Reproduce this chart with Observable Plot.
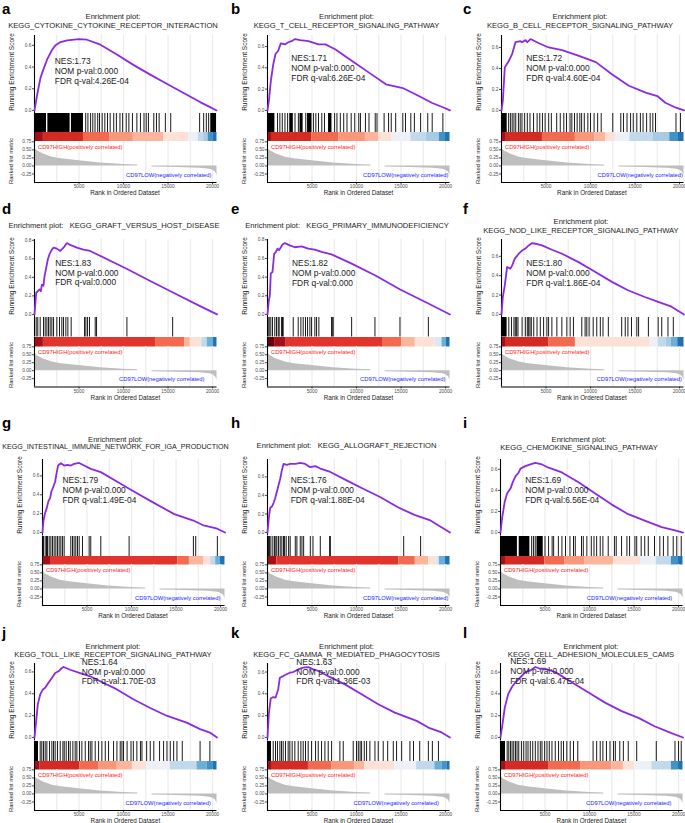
<!DOCTYPE html>
<html><head><meta charset="utf-8">
<script src="https://cdn.jsdelivr.net/npm/d3@7"></script>
<script src="https://cdn.jsdelivr.net/npm/@observablehq/plot@0.6"></script>
<style>
body{margin:0;background:#fff;}
#fig{position:relative;width:685px;height:823px;overflow:hidden;font-family:"Liberation Sans",Arial,sans-serif;background:#fff;}
.t{position:absolute;white-space:pre;line-height:1;}
.clip{position:absolute;top:0;height:823px;overflow:hidden;}
</style></head><body><div id="fig"></div>
<script>
// ---------------- DATA ----------------
const panelLetters = ["a","b","c","d","e","f","g","h","i","j","k","l"];
const geneSets = ["KEGG_CYTOKINE_CYTOKINE_RECEPTOR_INTERACTION","KEGG_T_CELL_RECEPTOR_SIGNALING_PATHWAY","KEGG_B_CELL_RECEPTOR_SIGNALING_PATHWAY",
  "KEGG_GRAFT_VERSUS_HOST_DISEASE","KEGG_PRIMARY_IMMUNODEFICIENCY","KEGG_NOD_LIKE_RECEPTOR_SIGNALING_PATHWAY",
  "KEGG_INTESTINAL_IMMUNE_NETWORK_FOR_IGA_PRODUCTION","KEGG_ALLOGRAFT_REJECTION","KEGG_CHEMOKINE_SIGNALING_PATHWAY",
  "KEGG_TOLL_LIKE_RECEPTOR_SIGNALING_PATHWAY","KEGG_FC_GAMMA_R_MEDIATED_PHAGOCYTOSIS","KEGG_CELL_ADHESION_MOLECULES_CAMS"];
const nesValues = ["1.73","1.71","1.72","1.83","1.82","1.80","1.79","1.76","1.69","1.64","1.63","1.69"];
const nomPValues = ["0.000","0.000","0.000","0.000","0.000","0.000","0.000","0.000","0.000","0.000","0.000","0.000"];
const fdrQValues = ["4.26E-04","6.26E-04","4.60E-04","0.000","0.000","1.86E-04","1.49E-04","1.88E-04","6.56E-04","1.70E-03","1.36E-03","6.47E-04"];
const highLabel = "CD97HIGH(positively correlated)";
const lowLabel = "CD97LOW(negatively correlated)";
const xTicks = [5, 10, 15, 20];              // rank, thousands
const gridTicks = [2.5,5,7.5,10,12.5,15,17.5,20];
const esTicks = [0, 0.2, 0.4, 0.6, 0.8];
const metricTicks = [-0.25, 0, 0.25, 0.5, 0.75];

// running enrichment score: [rank (thousands), ES]
const esA = [[0,0],[0.3,0.145],[0.67,0.3],[1.05,0.39],[1.42,0.47],[1.98,0.56],[2.36,0.6],[2.92,0.63],[3.67,0.646],[4.97,0.658],[5.9,0.652],[7.4,0.606],[9.3,0.514],[11.1,0.42],[13.0,0.33],[14.9,0.243],[16.75,0.16],[18.6,0.077],[19.56,0.037],[20.45,0]];
const esB = [[0,0],[0.15,0.088],[0.38,0.28],[0.64,0.43],[0.9,0.53],[1.2,0.56],[1.5,0.63],[1.96,0.62],[2.34,0.64],[2.7,0.65],[3.1,0.67],[3.66,0.66],[4.6,0.65],[5.73,0.62],[6.5,0.62],[7.6,0.575],[9.5,0.465],[11.4,0.355],[13.3,0.245],[15.2,0.21],[17.0,0.135],[18.5,0.07],[19.7,0.03],[20.5,0]];
const esC = [[0,0],[0.15,0.09],[0.37,0.41],[0.82,0.47],[1.2,0.54],[1.57,0.65],[2.14,0.66],[2.3,0.65],[2.7,0.67],[2.9,0.65],[3.26,0.68],[4.2,0.64],[5.3,0.6],[6.8,0.575],[8.7,0.52],[10.6,0.46],[12.4,0.345],[14.3,0.235],[16.2,0.17],[17.5,0.137],[18.4,0.073],[19.6,0.026],[20.5,0]];
const esD = [[0,0],[0.19,0.234],[0.37,0.25],[0.56,0.27],[0.71,0.25],[0.82,0.32],[1.01,0.31],[1.12,0.41],[1.31,0.5],[1.5,0.595],[1.69,0.65],[1.95,0.7],[2.14,0.72],[2.51,0.71],[2.89,0.685],[3.26,0.72],[3.64,0.77],[4.0,0.75],[4.76,0.72],[5.5,0.7],[6.26,0.685],[7.0,0.65],[10.4,0.49],[13.0,0.36],[15.5,0.24],[18.6,0.09],[20.5,0]];
const esE = [[0,0],[0.15,0.15],[0.26,0.2],[0.37,0.44],[0.56,0.455],[0.75,0.65],[0.94,0.67],[1.12,0.705],[1.3,0.69],[1.5,0.72],[1.69,0.75],[1.95,0.765],[2.5,0.74],[3.07,0.72],[3.82,0.73],[4.57,0.705],[5.3,0.694],[6.07,0.67],[7.2,0.644],[9.45,0.545],[12.07,0.42],[14.9,0.267],[18.07,0.117],[20.5,0]];
const esF = [[0,0],[0.15,0.18],[0.37,0.3],[0.63,0.49],[1.0,0.473],[1.2,0.507],[1.5,0.576],[1.94,0.627],[2.31,0.66],[2.68,0.68],[3.06,0.713],[3.43,0.737],[3.8,0.73],[4.55,0.713],[5.67,0.668],[6.8,0.627],[8.65,0.54],[10.5,0.44],[12.4,0.336],[14.2,0.25],[16.1,0.18],[17.6,0.13],[19.1,0.08],[20.5,0]];
const esG = [[0,0],[0.11,0.127],[0.3,0.21],[0.49,0.264],[0.67,0.333],[0.86,0.367],[1.0,0.435],[1.23,0.487],[1.42,0.538],[1.6,0.64],[1.76,0.71],[2.06,0.734],[2.43,0.71],[2.8,0.717],[3.18,0.71],[3.55,0.727],[4.12,0.737],[4.68,0.71],[5.42,0.675],[6.55,0.64],[8.4,0.538],[9.73,0.463],[12.16,0.333],[14.8,0.195],[16.95,0.127],[18.1,0.075],[19.64,0.04],[20.5,0]];
const esH = [[0,0],[0.15,0.16],[0.3,0.265],[0.49,0.28],[0.68,0.318],[0.86,0.37],[1.05,0.44],[1.24,0.51],[1.43,0.58],[1.61,0.67],[1.8,0.74],[2.18,0.73],[2.55,0.74],[3.12,0.74],[3.68,0.75],[4.24,0.74],[4.8,0.705],[5.37,0.716],[5.93,0.69],[7.06,0.653],[8.94,0.56],[10.8,0.47],[12.7,0.38],[14.6,0.275],[16.5,0.19],[18.3,0.13],[20.5,0]];
const esI = [[0,0],[0.19,0.143],[0.48,0.295],[0.75,0.372],[1.12,0.417],[1.38,0.478],[1.68,0.533],[2.05,0.57],[2.24,0.606],[2.8,0.63],[3.35,0.646],[3.91,0.66],[4.66,0.646],[5.4,0.615],[6.9,0.57],[8.76,0.478],[10.6,0.372],[12.5,0.265],[14.35,0.174],[16.2,0.113],[18.1,0.052],[19.6,0.021],[20.5,0]];
const esJ = [[0,0],[0.19,0.152],[0.37,0.303],[0.64,0.394],[0.94,0.44],[1.2,0.455],[1.57,0.5],[1.95,0.545],[2.32,0.59],[2.7,0.606],[3.07,0.636],[3.26,0.645],[4.0,0.62],[5.13,0.59],[6.26,0.56],[7.38,0.515],[9.26,0.44],[11.1,0.35],[13.0,0.27],[14.9,0.197],[17.1,0.136],[18.6,0.076],[19.7,0.045],[20.5,0]];
const esK = [[0,0],[0.15,0.213],[0.37,0.36],[0.64,0.37],[0.9,0.365],[1.2,0.44],[1.39,0.548],[1.76,0.563],[2.14,0.58],[2.51,0.594],[2.89,0.6],[3.45,0.624],[4.0,0.64],[4.57,0.646],[5.13,0.624],[5.7,0.61],[6.8,0.563],[8.7,0.487],[10.57,0.396],[12.44,0.305],[14.3,0.228],[16.75,0.152],[18.07,0.091],[19.56,0.046],[20.5,0]];
const esL = [[0,0],[0.19,0.103],[0.48,0.274],[0.86,0.398],[1.3,0.466],[1.68,0.507],[2.24,0.553],[2.8,0.6],[3.35,0.616],[3.91,0.647],[4.47,0.631],[5.03,0.631],[6.15,0.6],[8.0,0.507],[9.88,0.413],[11.74,0.32],[13.6,0.242],[15.5,0.18],[17.3,0.103],[19.2,0.04],[20.5,0]];

// gene hits: single ranks (thousands) or dense blocks [from, to]
const hitsA = [[0,1.35],[1.5,4.0],[4.15,5.5],5.75,6.0,6.3,6.55,6.8,7.1,7.3,7.6,7.9,8.2,8.5,8.9,9.2,9.6,9.9,10.3,10.6,11.0,11.5,11.9,12.3,12.55,12.8,13.4,13.7,14.0,14.7,15.3,18.55,19.0,19.3,19.56,[19.8,20.45]];
const hitsB = [[0,0.83],1.13,1.39,1.66,1.96,2.26,[2.5,2.9],3.09,3.47,[3.65,4.0],4.3,[4.5,5.0],5.16,5.43,5.73,6.1,6.4,[6.86,7.24],7.54,7.8,8.18,8.56,8.93,9.4,9.8,10.25,10.44,11.0,11.4,12.1,12.3,13.1,13.6,13.9,14.4,15.2,15.5,16.1,16.5,17.2,18.0,18.5,19.7];
const hitsC = [[0,0.64],0.8,1.0,1.2,1.4,1.6,1.9,2.1,2.3,2.6,2.9,3.2,3.6,4.0,4.3,4.6,4.9,5.3,5.6,6.2,6.6,7.0,7.3,7.7,7.9,8.2,8.5,8.8,9.0,9.3,9.7,10.0,10.4,10.8,11.2,12.5,13.4,13.7,14.1,14.5,14.8,15.2,15.6,15.9,16.3,16.7,17.0,17.3,19.6,20.1];
const hitsD = [0.19,0.37,0.64,1.01,1.2,1.39,1.57,1.76,1.95,2.14,2.51,2.81,3.07,3.26,3.52,3.75,4.12,5.62,5.77,5.96,6.18,6.82,6.97,10.38,15.52];
const hitsE = [0.07,0.19,0.37,0.56,0.82,1.01,1.2,1.31,1.57,1.69,1.76,2.89,3.45,3.75,4.01,4.27,4.5,4.76,4.95,5.32,5.51,5.77,7.2,7.27,7.38,9.45,12.07,14.88,18.07];
const hitsF = [[0,0.63],0.82,1.12,1.4,1.55,1.7,1.85,2.31,2.68,2.9,3.05,3.2,3.35,3.62,3.99,4.36,4.73,5.1,5.29,5.66,6.22,6.78,7.34,7.71,8.08,9.02,9.39,9.58,9.84,10.3,10.7,11.1,11.4,12.0,13.5,13.9,14.2,14.6,15.2,15.4,16.5,17.6,18.0,18.7,19.3];
const hitsG = [0.11,0.3,0.45,0.56,0.75,0.94,1.12,1.31,1.5,1.68,1.87,2.06,2.24,2.43,3.18,3.37,3.55,3.74,3.93,4.12,4.49,5.24,5.42,6.55,9.73,16.95,17.21,19.64];
const hitsH = [0.11,0.23,0.38,0.6,0.79,0.94,1.05,1.24,1.43,1.61,1.8,1.92,2.1,2.37,2.55,3.12,3.3,3.68,3.87,4.06,4.81,5.11,5.93,6.98,7.06,15.3,17.2];
const hitsI = [[0,1.9],[2.1,3.3],3.5,3.7,3.9,[4.1,4.8],5.0,5.4,5.8,5.97,6.5,6.9,7.3,7.8,8.2,8.4,9.1,9.3,9.7,10.2,10.5,10.8,11.2,11.5,12.1,12.8,13.0,13.6,14.2,14.5,15.1,15.3,15.8,16.2,16.6,17.3,17.9,18.3,18.8,19.4,19.8,20.3];
const hitsJ = [[0,0.45],0.64,0.82,1.01,1.2,1.39,1.69,1.95,2.14,2.32,2.59,2.89,3.19,3.34,3.56,3.82,4.01,4.31,4.57,4.76,5.06,5.32,5.7,6.07,6.26,6.45,6.82,7.2,7.57,7.95,8.32,8.88,9.26,9.63,9.82,10.0,10.4,10.84,11.1,11.5,11.9,12.07,12.6,13.0,13.4,14.05,14.5,14.88,15.25,15.63,16.0,16.6,18.6,19.7];
const hitsK = [[0,0.45],0.64,0.9,1.12,1.39,1.57,1.76,2.02,2.32,2.51,2.77,3.07,3.45,3.75,4.01,4.27,4.57,4.95,5.4,5.7,6.07,6.45,6.82,7.2,8.13,8.51,9.63,10.0,10.2,10.4,10.57,10.87,11.13,11.5,12.07,12.44,13.0,13.5,14.13,14.5,15.07,16.0,16.4,17.1,18.07,18.52,19.2];
const hitsL = [[0,0.56],0.75,0.93,1.12,1.3,1.49,1.68,1.86,2.05,2.35,2.61,2.87,3.09,3.35,3.62,3.91,4.21,4.47,4.66,4.96,5.22,5.48,5.78,6.15,6.52,6.82,7.08,7.45,7.83,8.2,8.68,10.4,10.8,11.2,11.5,11.9,12.3,12.7,12.9,13.4,13.8,14.35,15.3,17.5,19.6,20.0,20.3];

// colour bar: [segment start rank (thousands), palette index]
const barPalette = ["#67000d","#a50f15","#d42a24","#e0342c","#f26a50","#f8977a","#fbb59d","#fde0d6","#eef0f8","#dde8f5","#c2d9ec","#a6cbe3","#6baed6","#4292c6","#2171b5"];
const barA = [[0,1],[1.0,2],[5.5,4],[8.5,5],[11.1,6],[14.5,7],[17.3,8],[18.4,10],[19.0,11],[19.5,13],[20.1,14]];
const barB = [[0,1],[0.45,2],[5.0,4],[8.0,5],[11.0,6],[12.5,7],[14.0,8],[16.1,10],[17.8,11],[19.3,13],[20.0,14]];
const barC = [[0,1],[0.45,2],[4.6,4],[8.3,5],[10.5,6],[11.7,7],[12.8,8],[14.4,10],[17.0,11],[18.9,13],[19.8,14]];
const barD = [[0,1],[1.0,3],[13.6,4],[16.9,6],[17.5,7],[18.8,10],[19.4,12],[20.1,14]];
const barE = [[0,0],[0.8,1],[2.1,3],[13.0,4],[15.1,6],[16.6,7],[18.8,9],[19.6,12],[20.1,14]];
const barF = [[0,1],[0.45,2],[5.3,4],[8.3,7],[16.7,8],[17.6,10],[18.5,11],[19.1,12],[19.8,14]];
const barG = [[0,1],[0.9,3],[15.2,4],[16.5,6],[18.1,7],[18.9,10],[19.45,12],[20.0,14]];
const barH = [[0,1],[1.05,3],[14.75,4],[16.6,6],[18.1,7],[18.9,9],[19.3,12],[20.0,14]];
const barI = [[0,1],[0.56,2],[5.0,4],[7.2,5],[9.5,6],[12.7,7],[15.8,8],[17.5,10],[19.2,13],[20.0,14]];
const barJ = [[0,1],[0.64,2],[5.1,4],[7.2,5],[9.3,6],[11.0,7],[12.6,8],[15.25,10],[18.25,12],[19.4,13],[20.1,14]];
const barK = [[0,1],[0.45,2],[4.6,4],[7.2,5],[9.8,6],[10.9,7],[14.3,8],[16.75,10],[18.8,12],[19.6,13],[20.2,14]];
const barL = [[0,1],[0.56,2],[5.4,4],[9.0,5],[12.5,6],[13.8,7],[15.1,8],[17.0,10],[19.2,13],[20.0,14]];

// ranked list metric (shared): [rank (thousands), metric]
const metricPos = [[0,0.55],[0.3,0.47],[1.0,0.37],[2.0,0.27],[3.0,0.22],[5.0,0.16],[7.4,0.09],[10.0,0.045],[11.6,0.03]];
const metricNeg = [[13.2,-0.035],[16.0,-0.05],[18.6,-0.07],[19.7,-0.1],[20.1,-0.14],[20.35,-0.2],[20.5,-0.3]];

// ---------------- LAYOUT ----------------
const esSets = [esA,esB,esC,esD,esE,esF,esG,esH,esI,esJ,esK,esL];
const hitSets = [hitsA,hitsB,hitsC,hitsD,hitsE,hitsF,hitsG,hitsH,hitsI,hitsJ,hitsK,hitsL];
const barSets = [barA,barB,barC,barD,barE,barF,barG,barH,barI,barJ,barK,barL];
const rows = [
  {esTop:34.5, esBot:113, hitsBot:132, colBot:141, rankBot:182, t2:[17,25.5], t1:21, letterY:13.5},
  {esTop:238.5, esBot:317, hitsBot:336.5, colBot:346, rankBot:386.5, t2:[222.3,230.7], t1:226.3, letterY:213.5},
  {esTop:459, esBot:535.5, hitsBot:555.5, colBot:564, rankBot:605, t2:[440,448.3], t1:445.7, letterY:428},
  {esTop:663, esBot:740.5, hitsBot:760.5, colBot:769, rankBot:810, t2:[646.7,655], t1:651, letterY:637.5}
];
const colLeft = [0, 228, 455], colWidth = [230, 228, 230], letterX = [2, 231, 463];
const layout = [
  {axisX:33.8, titleX:113, one:false, nes:[21,61], lowRight:177},
  {axisX:267.3, titleX:346.5, one:false, nes:[24,58.3], lowRight:181},
  {axisX:500.7, titleX:580, one:false, nes:[25.6,58.3], lowRight:181.5},
  {axisX:34.2, titleX:114, one:true, nes:[21,262.7], lowRight:170},
  {axisX:267.3, titleX:347, one:true, nes:[24.7,263.3], lowRight:178},
  {axisX:500.7, titleX:581, one:false, nes:[25.6,263.3], lowRight:180.5},
  {axisX:41.8, titleX:115.5, one:false, nes:[20.6,480], lowRight:178, titleSize:7.15},
  {axisX:267.3, titleX:346.5, one:true, nes:[23.4,480], lowRight:181},
  {axisX:500.2, titleX:579, one:false, nes:[25,480], lowRight:171.7},
  {axisX:34.2, titleX:113, one:false, nes:[47.5,661.7], lowRight:176.4},
  {axisX:267.3, titleX:346.5, one:false, nes:[29,661.7], lowRight:171.4},
  {axisX:500.2, titleX:591, one:false, nes:[10,661], lowRight:171}
];
const ML = 30, MR = 2, W = 182.5, XMAX = 20.5;
const metricDomain = [-0.515, 0.76];
const FONT = '"Liberation Sans", Arial, sans-serif';
const fig = document.getElementById("fig");
const baseStyle = {fontFamily: FONT, fontSize: "4.8px", color: "#4d4d4d", background: "transparent", overflow: "visible", maxWidth: "none"};

function place(svg, left, top) {
  svg.style.position = "absolute"; svg.style.left = left + "px"; svg.style.top = top + "px";
  fig.appendChild(svg);
}
function txt(parent, s, x, y, o = {}) {
  const d = document.createElement("div");
  d.className = "t"; d.textContent = s;
  const fs = o.size || 8;
  d.style.fontSize = fs + "px"; d.style.color = o.color || "#1a1a1a";
  d.style.left = x + "px";
  if (o.bold) d.style.fontWeight = "bold";
  if (o.baseline) { d.style.top = (y - 0.8465 * fs) + "px"; }
  else {
    d.style.top = y + "px";
    const ax = o.anchor === "middle" ? "-50%" : o.anchor === "end" ? "-100%" : "0";
    d.style.transform = `translate(${ax},-50%)` + (o.rotate ? ` rotate(${o.rotate}deg)` : "");
  }
  parent.appendChild(d);
}

panelLetters.forEach((letter, i) => {
  const L = layout[i], R = rows[Math.floor(i / 3)], c = i % 3;
  const es = esSets[i], hits = hitSets[i], bar = barSets[i];
  const left = L.axisX - ML, width = ML + W + MR;
  const xs = {domain: [0, XMAX], axis: null};

  // running enrichment score
  const ys = es.map(d => d[1]);
  const mn = Math.min(...ys), mx = Math.max(...ys), r = mx - mn;
  const dom = [mn - 0.05 * r, mx + 0.05 * r];
  place(Plot.plot({
    width, height: R.esBot - R.esTop, marginLeft: ML, marginRight: MR, marginTop: 0, marginBottom: 0,
    style: baseStyle, x: xs,
    y: {domain: dom, ticks: esTicks.filter(t => t >= dom[0] && t <= dom[1]), tickFormat: d => d.toFixed(1), tickSize: 2, tickPadding: 1, label: null},
    marks: [
      Plot.ruleX(gridTicks, {stroke: "#ebebeb", strokeWidth: 1.2}),
      Plot.ruleX([0], {stroke: "#000", strokeWidth: 1.1}),
      Plot.line(es, {x: d => d[0], y: d => d[1], stroke: "#8a2be2", strokeWidth: 1.8})
    ]
  }), left, R.esTop);

  // hits
  const singles = hits.filter(h => typeof h === "number");
  const blocks = hits.filter(h => Array.isArray(h));
  place(Plot.plot({
    width, height: R.hitsBot - R.esBot, marginLeft: ML, marginRight: MR, marginTop: 0, marginBottom: 0,
    style: baseStyle, x: xs, y: {domain: [0, 1], axis: null},
    marks: [
      Plot.ruleX(gridTicks, {stroke: "#ebebeb", strokeWidth: 1.2}),
      Plot.rect(blocks, {x1: d => d[0], x2: d => d[1], y1: () => 0, y2: () => 1, fill: "#000"}),
      Plot.ruleX(singles, {x: d => d, y1: () => 0, y2: () => 1, stroke: "#000", strokeWidth: 0.9}),
      Plot.ruleX([0], {stroke: "#000", strokeWidth: 1.1})
    ]
  }), left, R.esBot);

  // colour bar
  const segs = bar.map((s, k) => ({s: s[0], e: k < bar.length - 1 ? bar[k + 1][0] : XMAX, c: barPalette[s[1]]}));
  place(Plot.plot({
    width, height: R.colBot - R.hitsBot, marginLeft: ML, marginRight: MR, marginTop: 0, marginBottom: 0,
    style: baseStyle, x: xs, y: {domain: [0, 1], axis: null}, color: {type: "identity"},
    marks: [
      Plot.rect(segs, {x1: "s", x2: "e", y1: () => 0, y2: () => 1, fill: "c"}),
      Plot.ruleX([0], {stroke: "#000", strokeWidth: 1.1})
    ]
  }), left, R.hitsBot);

  // ranked list metric
  place(Plot.plot({
    width, height: R.rankBot - R.colBot + 11, marginLeft: ML, marginRight: MR, marginTop: 0, marginBottom: 11,
    style: baseStyle,
    x: {domain: [0, XMAX], ticks: xTicks, tickFormat: d => String(d * 1000), tickSize: 2, tickPadding: 0.5, label: null},
    y: {domain: metricDomain, ticks: metricTicks, tickFormat: d => d.toFixed(2), tickSize: 2, tickPadding: 1, label: null},
    marks: [
      Plot.ruleX(gridTicks, {stroke: "#ebebeb", strokeWidth: 1.2}),
      Plot.areaY(metricPos, {x: d => d[0], y: d => d[1], fill: "#bebebe"}),
      Plot.areaY(metricNeg, {x: d => d[0], y: d => d[1], fill: "#bebebe"}),
      Plot.text([highLabel], {frameAnchor: "top-left", dx: 3.5, dy: 6, textAnchor: "start", lineAnchor: "middle", fill: "#ff1a1a", fontSize: 5.8}),
      Plot.text([lowLabel], {frameAnchor: "bottom-left", dx: L.lowRight, dy: -7.5, textAnchor: "end", lineAnchor: "middle", fill: "#1a1aff", fontSize: 5.8}),
      Plot.ruleX([0], {stroke: "#000", strokeWidth: 1.1}),
      Plot.ruleY([metricDomain[0]], {stroke: "#000", strokeWidth: 1.1})
    ]
  }), left, R.colBot);

  // text
  txt(fig, letter, letterX[c], R.letterY, {size: 15, bold: true, baseline: true, color: "#000"});
  const clip = document.createElement("div");
  clip.className = "clip"; clip.style.left = colLeft[c] + "px"; clip.style.width = colWidth[c] + "px";
  fig.appendChild(clip);
  const tx = L.titleX - colLeft[c];
  const ts = L.titleSize || 7.6;
  if (L.one) {
    txt(clip, "Enrichment plot:   " + geneSets[i], tx, R.t1, {size: ts, anchor: "middle"});
  } else {
    txt(clip, "Enrichment plot:", tx, R.t2[0], {size: 7.6, anchor: "middle"});
    txt(clip, geneSets[i], tx, R.t2[1], {size: ts, anchor: "middle"});
  }
  const nx = L.axisX + L.nes[0], ny = L.nes[1];
  txt(fig, "NES:" + nesValues[i], nx, ny, {size: 8.4});
  txt(fig, "NOM p-val:" + nomPValues[i], nx, ny + 9.8, {size: 8.4});
  txt(fig, "FDR q-val:" + fdrQValues[i], nx, ny + 19.6, {size: 8.4});
  txt(fig, "Running Enrichment Score", L.axisX - 22, (R.esTop + R.esBot) / 2 - 2, {size: 6.5, anchor: "middle", rotate: -90});
  txt(fig, "Ranked list metric", L.axisX - 22, (R.colBot + R.rankBot) / 2 - 1, {size: 5.8, anchor: "middle", rotate: -90});
  txt(fig, "Rank in Ordered Dataset", L.axisX + W / 2, R.rankBot + 11.3, {size: 6.3, anchor: "middle"});
});
</script></body></html>
